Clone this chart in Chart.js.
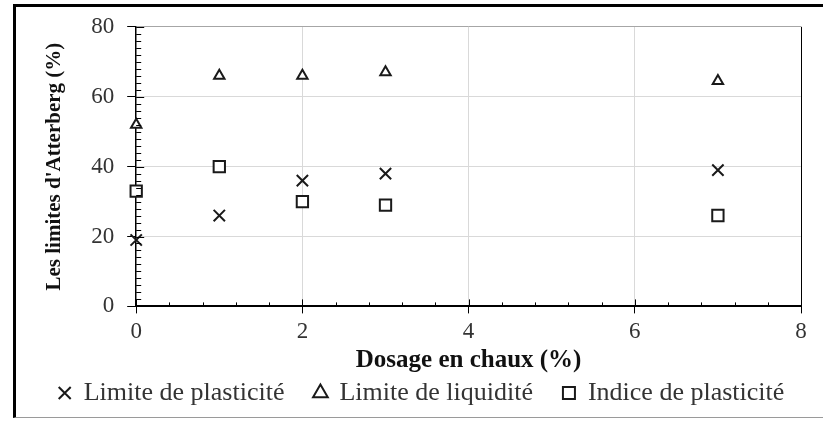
<!DOCTYPE html>
<html>
<head>
<meta charset="utf-8">
<script src="https://cdn.jsdelivr.net/npm/chart.js@4/dist/chart.umd.min.js"></script>
<style>
  html,body{margin:0;padding:0;background:#fff;}
  #wrap{position:relative;width:823px;height:421px;overflow:hidden;}
  #frame{position:absolute;left:13px;top:4px;width:820px;height:410px;border-left:3px solid #000;border-top:3px solid #000;border-bottom:1px solid #9a9a9a;}
  canvas{position:absolute;left:0;top:0;}
</style>
</head>
<body>
<div id="wrap">
  <div id="frame"></div>
  <canvas id="chart" width="823" height="421"></canvas>
</div>
<script>
// données
const dosage=[0,1,2,3,7];
const limitePlasticite=[19,26,36,38,39];
const limiteLiquidite=[52,66,66,67,64.5];
const indicePlasticite=[33,40,30,29,26];
const xTicks=[0,2,4,6,8];
const yTicks=[0,20,40,60,80];

const serif="'Liberation Serif','Times New Roman',serif";
const pts=vals=>dosage.map((d,i)=>({x:d,y:vals[i]}));

// petites graduations (mineures) sur les axes
const minorTicks={
  id:'minorTicks',
  afterDraw(chart){
    const {ctx,chartArea:a,scales:{x,y}}=chart;
    ctx.save();
    ctx.strokeStyle='#000';ctx.lineWidth=1;
    ctx.beginPath();
    for(let v=0;v<=80;v+=2){
      const py=Math.round(y.getPixelForValue(v))+0.5;
      const len=v%20===0?8:5;
      ctx.moveTo(a.left,py);ctx.lineTo(a.left+len,py);
    }
    for(let i=0;i<=20;i++){
      const px=Math.round(x.getPixelForValue(i*0.4))+0.5;
      const len=i%5===0?7:4;
      ctx.moveTo(px,a.bottom);ctx.lineTo(px,a.bottom-len);
    }
    ctx.stroke();
    ctx.restore();
  }
};

new Chart(document.getElementById('chart'),{
  type:'scatter',
  data:{datasets:[
    {label:'Limite de plasticité',data:pts(limitePlasticite),pointStyle:'crossRot',pointRadius:8,borderColor:'#1a1a1a',backgroundColor:'#1a1a1a',borderWidth:2,clip:false},
    {label:'Limite de liquidité',data:pts(limiteLiquidite),pointStyle:'triangle',pointRadius:6,borderColor:'#1a1a1a',backgroundColor:'#fff',borderWidth:2,clip:false},
    {label:'Indice de plasticité',data:pts(indicePlasticite),pointStyle:'rect',pointRadius:8,borderColor:'#1a1a1a',backgroundColor:'#fff',borderWidth:2,clip:false}
  ]},
  options:{
    responsive:false,animation:false,
    layout:{padding:{left:42,right:22,top:20,bottom:5}},
    plugins:{
      tooltip:{enabled:false},
      legend:{position:'bottom',
        labels:{usePointStyle:true,boxWidth:12,boxHeight:12,padding:4,color:'#333',font:{family:serif,size:26},
          generateLabels(chart){
            const items=Chart.defaults.plugins.legend.labels.generateLabels(chart);
            items.forEach((it,i)=>{if(i<items.length-1) it.text+='    ';});
            return items;
          }}}
    },
    scales:{
      x:{type:'linear',min:0,max:8,
        afterBuildTicks:s=>{s.ticks=xTicks.map(v=>({value:v}));},
        ticks:{color:'#333',padding:5,font:{family:serif,size:23}},
        grid:{color:c=>c.tick.value===8?'#000':(c.tick.value===0?'rgba(0,0,0,0)':'#d9d9d9'),tickColor:'#000',tickLength:7},
        border:{color:'#000',width:2},
        title:{display:true,text:'Dosage en chaux (%)',color:'#111',padding:{top:-5,bottom:0},font:{family:serif,size:25,weight:'bold'}}
      },
      y:{min:0,max:80,
        afterBuildTicks:s=>{s.ticks=yTicks.map(v=>({value:v}));},
        ticks:{color:'#333',padding:13,font:{family:serif,size:23}},
        grid:{color:c=>c.tick.value===80?'#a6a6a6':(c.tick.value===0?'rgba(0,0,0,0)':'#d9d9d9'),tickColor:'#000',tickLength:9},
        border:{color:'#000',width:1.5},
        title:{display:true,text:"Les limites d'Atterberg (%)",color:'#111',padding:{top:0,bottom:11},font:{family:serif,size:21,weight:'bold'}}
      }
    }
  },
  plugins:[minorTicks]
});
</script>
</body>
</html>
